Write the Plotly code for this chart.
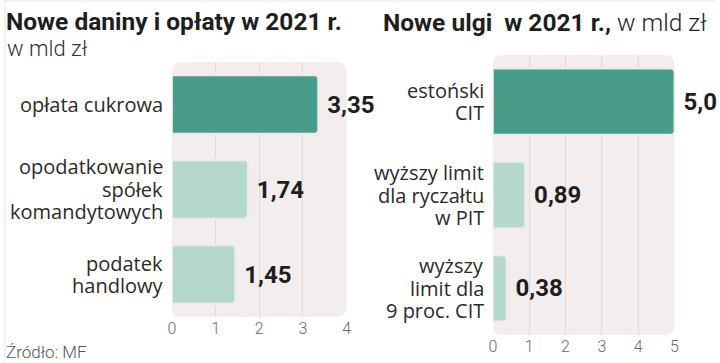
import plotly.graph_objects as go

# ---- data ----
left_categories = ["opłata cukrowa", "opodatkowanie<br>spółek<br>komandytowych", "podatek<br>handlowy"]
left_values = [3.35, 1.74, 1.45]
left_text = ["3,35", "1,74", "1,45"]
left_ticks = [0, 1, 2, 3, 4]

right_categories = ["estoński<br>CIT", "wyższy limit<br>dla ryczałtu<br>w PIT", "wyższy<br>limit dla<br>9 proc. CIT"]
right_values = [5.0, 0.89, 0.38]
right_text = ["5,0", "0,89", "0,38"]
right_ticks = [0, 1, 2, 3, 4, 5]

W, H = 720, 363
DARK = "#489c88"
LIGHT = "#b4d9cc"
BG = "#f4eded"
GRID = "#e4dada"
LABEL_FONT = dict(family="Open Sans", size=20, color="#2a2a2a")
VALUE_FONT = dict(family="Roboto", size=24, color="#1e1e1e", weight="bold")
TICK_FONT = dict(family="Roboto", size=16, color="#6a6a6a", weight=300)
LINE_PITCH = 22.5

# plot rectangles in pixels (x0, x1, ytop, ybottom)
L = (170, 347, 62, 317)
R = (495, 679, 55, 335)

def dom(rect):
    x0, x1, yt, yb = rect
    return [x0 / W, x1 / W], [1 - yb / H, 1 - yt / H]

def rounded(rect, r=10):
    x0, x1, yt, yb = rect
    px = lambda v: v / W
    py = lambda v: 1 - v / H
    p = (f"M {px(x0+r)},{py(yt)} L {px(x1-r)},{py(yt)} Q {px(x1)},{py(yt)} {px(x1)},{py(yt+r)} "
         f"L {px(x1)},{py(yb-r)} Q {px(x1)},{py(yb)} {px(x1-r)},{py(yb)} "
         f"L {px(x0+r)},{py(yb)} Q {px(x0)},{py(yb)} {px(x0)},{py(yb-r)} "
         f"L {px(x0)},{py(yt+r)} Q {px(x0)},{py(yt)} {px(x0+r)},{py(yt)} Z")
    return dict(type="path", path=p, xref="paper", yref="paper", fillcolor=BG,
                line=dict(width=0), layer="below")

NB = "\u00a0"

fig = go.Figure()
fig.add_trace(go.Bar(
    x=left_values, y=left_categories, orientation="h",
    marker=dict(color=[DARK, LIGHT, LIGHT], line=dict(color="#ebebeb", width=2)),
    text=[NB + t for t in left_text], textposition="outside", textfont=VALUE_FONT, cliponaxis=False,
    width=0.69, xaxis="x", yaxis="y", hoverinfo="skip"))
fig.add_trace(go.Bar(
    x=right_values, y=right_categories, orientation="h",
    marker=dict(color=[DARK, LIGHT, LIGHT], line=dict(color="#ebebeb", width=2)),
    text=[NB + t for t in right_text], textposition="outside", textfont=VALUE_FONT, cliponaxis=False,
    width=0.71, xaxis="x2", yaxis="y2", hoverinfo="skip"))

lxd, lyd = dom(L)
rxd, ryd = dom(R)

annotations = [
    dict(text="<b>Nowe daniny i opłaty w 2021 r.</b>", x=0.5 / W, y=1 - 21 / H, xref="paper", yref="paper",
         xanchor="left", yanchor="middle", showarrow=False,
         font=dict(family="Roboto", size=24.5, color="#1e1e1e")),
    dict(text="w mld zł", x=1 / W, y=1 - 48 / H, xref="paper", yref="paper",
         xanchor="left", yanchor="middle", showarrow=False,
         font=dict(family="Roboto", size=22, color="#333333", weight=300)),
    dict(text="<b>Nowe ulgi" + NB + " w 2021 r.,</b> <span style='font-weight:300'>w mld zł</span>",
         x=382 / W, y=1 - 23 / H, xref="paper", yref="paper",
         xanchor="left", yanchor="middle", showarrow=False,
         font=dict(family="Roboto", size=24.5, color="#1e1e1e")),
    dict(text="Źródło: MF", x=0.5 / W, y=1 - 352 / H, xref="paper", yref="paper",
         xanchor="left", yanchor="middle", showarrow=False,
         font=dict(family="Roboto", size=17, color="#555555", weight=300)),
]
# category labels: one right-aligned annotation per line, centred on each category
for cats, xr, yr in [(left_categories, "x domain", "y"), (right_categories, "x2 domain", "y2")]:
    for c in cats:
        lines = c.split("<br>")
        n = len(lines)
        for j, line in enumerate(lines):
            annotations.append(dict(text=line, x=0, y=c, xref=xr, yref=yr, xanchor="right",
                                    yanchor="middle", xshift=-7, yshift=((n - 1) / 2 - j) * LINE_PITCH,
                                    showarrow=False, font=LABEL_FONT))

shapes = [rounded(L), rounded(R),
          dict(type="line", xref="paper", yref="paper", x0=0, x1=1, y0=1 - 1 / H, y1=1 - 1 / H,
               line=dict(color="#e4e4e4", width=1)),
          dict(type="line", xref="paper", yref="paper", x0=1 / W, x1=1 / W, y0=0, y1=1,
               line=dict(color="#e4e4e4", width=1))]

fig.update_layout(
    width=W, height=H, margin=dict(l=0, r=0, t=0, b=0),
    paper_bgcolor="white", plot_bgcolor="rgba(0,0,0,0)",
    showlegend=False, barcornerradius=4,
    xaxis=dict(domain=lxd, range=[0, 4], tickvals=left_ticks, ticktext=[str(t) for t in left_ticks],
               showgrid=True, gridcolor=GRID, gridwidth=1, zeroline=False, showline=False,
               tickfont=TICK_FONT, ticks="", anchor="y"),
    yaxis=dict(domain=lyd, range=[2.5, -0.5], type="category", categoryarray=left_categories,
               showgrid=False, zeroline=False, showticklabels=False, ticks="", anchor="x"),
    xaxis2=dict(domain=rxd, range=[0, 5], tickvals=right_ticks, ticktext=[str(t) for t in right_ticks],
                showgrid=True, gridcolor=GRID, gridwidth=1, zeroline=False, showline=False,
                tickfont=TICK_FONT, ticks="", anchor="y2"),
    yaxis2=dict(domain=ryd, range=[2.5, -0.5], type="category", categoryarray=right_categories,
                showgrid=False, zeroline=False, showticklabels=False, ticks="", anchor="x2"),
    shapes=shapes,
    annotations=annotations,
)

fig.write_html("out.html", config={"displayModeBar": False},
               post_script="document.body.style.margin='0';document.body.style.overflow='hidden';")
